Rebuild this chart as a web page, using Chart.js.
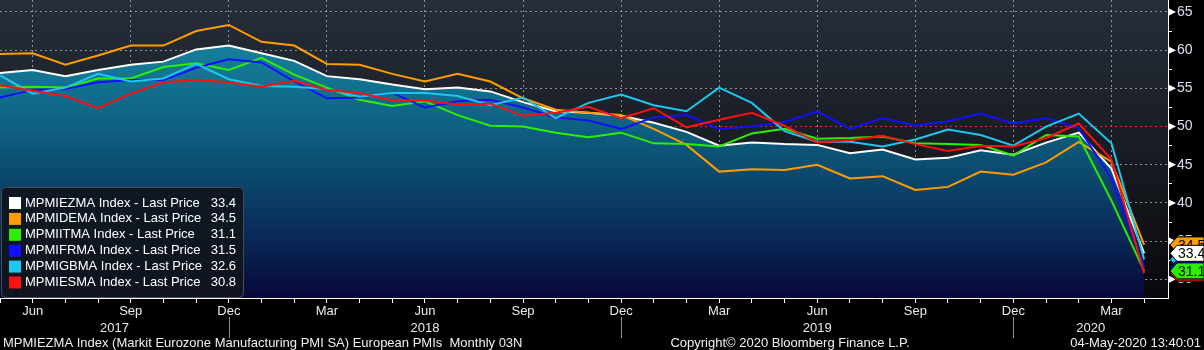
<!DOCTYPE html>
<html>
<head>
<meta charset="utf-8">
<script src="https://cdn.jsdelivr.net/npm/chart.js@4"></script>
<style>
  html, body { margin: 0; padding: 0; background: #000; }
  #wrap { width: 1204px; height: 350px; }
</style>
</head>
<body>
<div id="wrap"><canvas id="pmiChart" width="1204" height="350"></canvas></div>
<script>
// monthly PMI readings, May 2017 .. Apr 2020
var months = [
  '2017-05', '2017-06', '2017-07', '2017-08', '2017-09', '2017-10', '2017-11', '2017-12',
  '2018-01', '2018-02', '2018-03', '2018-04', '2018-05', '2018-06', '2018-07', '2018-08', '2018-09', '2018-10', '2018-11', '2018-12',
  '2019-01', '2019-02', '2019-03', '2019-04', '2019-05', '2019-06', '2019-07', '2019-08', '2019-09', '2019-10', '2019-11', '2019-12',
  '2020-01', '2020-02', '2020-03', '2020-04'
];
var monthNames = ['Jan', 'Feb', 'Mar', 'Apr', 'May', 'Jun', 'Jul', 'Aug', 'Sep', 'Oct', 'Nov', 'Dec'];
var labelledMonths = ['Mar', 'Jun', 'Sep', 'Dec'];
var yTickValues = [30, 32.5, 35, 37.5, 40, 42.5, 45, 47.5, 50, 52.5, 55, 57.5, 60, 62.5, 65];

var ezValues = [57.0, 57.4, 56.6, 57.4, 58.1, 58.5, 60.1, 60.6,
  59.6, 58.6, 56.6, 56.2, 55.5, 54.9, 55.1, 54.6, 53.2, 52.0, 51.8, 51.4,
  50.5, 49.3, 47.5, 47.9, 47.7, 47.6, 46.5, 47.0, 45.7, 45.9, 46.9, 46.3,
  47.9, 49.2, 44.5, 33.4];
var deValues = [59.5, 59.6, 58.1, 59.3, 60.6, 60.6, 62.5, 63.3,
  61.1, 60.6, 58.2, 58.1, 56.9, 55.9, 56.9, 55.9, 53.7, 52.2, 51.8, 51.5,
  49.7, 47.6, 44.1, 44.4, 44.3, 45.0, 43.2, 43.5, 41.7, 42.1, 44.1, 43.7,
  45.3, 48.0, 45.4, 34.5];
var itValues = [55.1, 55.2, 55.1, 56.3, 56.3, 57.8, 58.3, 57.4,
  59.0, 56.8, 55.1, 53.5, 52.7, 53.3, 51.5, 50.1, 50.0, 49.2, 48.6, 49.2,
  47.8, 47.7, 47.4, 49.1, 49.7, 48.4, 48.5, 48.7, 47.8, 47.7, 47.6, 46.2,
  48.9, 48.7, 40.3, 31.1];
var frValues = [53.8, 54.8, 54.9, 55.8, 56.1, 56.1, 57.7, 58.8,
  58.4, 55.9, 53.7, 53.8, 54.4, 52.5, 53.3, 53.5, 52.5, 51.2, 50.8, 49.7,
  51.2, 51.5, 49.7, 50.0, 50.6, 52.0, 49.7, 51.1, 50.1, 50.7, 51.7, 50.4,
  51.1, 49.8, 43.2, 31.5];
var gbValues = [56.7, 54.3, 55.1, 56.9, 55.9, 56.3, 58.2, 56.2,
  55.3, 55.2, 54.9, 53.9, 54.4, 54.4, 54.0, 52.8, 53.8, 51.1, 53.1, 54.2,
  52.8, 52.0, 55.1, 53.1, 49.4, 48.0, 48.0, 47.4, 48.3, 49.6, 48.9, 47.5,
  50.0, 51.7, 47.8, 32.6];
var esValues = [55.4, 54.7, 54.0, 52.4, 54.3, 55.8, 56.1, 55.8,
  55.2, 56.0, 54.8, 54.4, 53.4, 53.4, 52.9, 53.0, 51.4, 51.8, 52.6, 51.1,
  52.4, 49.9, 50.9, 51.8, 50.1, 47.9, 48.2, 48.8, 47.7, 46.8, 47.5, 47.4,
  48.5, 50.4, 45.7, 30.8];

var seriesNames = ['MPMIEZMA Index', 'MPMIDEMA Index', 'MPMIITMA Index', 'MPMIFRMA Index', 'MPMIGBMA Index', 'MPMIESMA Index'];
var seriesColors = ['#ffffff', '#ff9c00', '#2af000', '#1010ff', '#1cc8f0', '#ff1010'];
var seriesValues = [ezValues, deValues, itValues, frValues, gbValues, esValues];

var FONT = '"Liberation Sans", Arial, sans-serif';

function monthLabel(i) {
  var m = months[i];
  if (!m) return '';
  return monthNames[parseInt(m.slice(5), 10) - 1];
}

function areaGradient(chart) {
  var ca = chart.chartArea;
  if (!ca) return 'rgba(0,0,0,0)';
  var g = chart.ctx.createLinearGradient(0, ca.top, 0, ca.bottom);
  g.addColorStop(0, '#1b8ba8');
  g.addColorStop(0.2, '#157b97');
  g.addColorStop(0.42, '#0e6183');
  g.addColorStop(0.52, '#0c5275');
  g.addColorStop(0.76, '#0a2f5c');
  g.addColorStop(1, '#07073a');
  return g;
}

var datasets = seriesValues.map(function (vals, s) {
  return {
    label: seriesNames[s],
    data: vals.map(function (v, i) { return { x: i, y: v }; }),
    borderColor: seriesColors[s],
    borderWidth: 2,
    pointRadius: 0,
    tension: 0,
    order: 6 - s,
    fill: s === 0 ? 'start' : false,
    backgroundColor: s === 0 ? function (ctx) { return areaGradient(ctx.chart); } : seriesColors[s]
  };
});

var bloombergFrame = {
  id: 'bloombergFrame',
  beforeDraw: function (chart) {
    var ctx = chart.ctx, ca = chart.chartArea;
    ctx.save();
    ctx.fillStyle = '#000';
    ctx.fillRect(0, 0, chart.width, chart.height);
    var g = ctx.createLinearGradient(0, ca.top, 0, ca.bottom);
    g.addColorStop(0, '#272e39');
    g.addColorStop(0.5, '#181c23');
    g.addColorStop(1, '#09090c');
    ctx.fillStyle = g;
    ctx.fillRect(ca.left, ca.top, ca.right - ca.left, ca.bottom - ca.top);
    ctx.restore();
  },
  afterDraw: function (chart) {
    var ctx = chart.ctx, ca = chart.chartArea;
    var xs = chart.scales.x, ys = chart.scales.y;
    ctx.save();

    // triangles on major y ticks
    ctx.fillStyle = '#ffffff';
    yTickValues.forEach(function (v) {
      if (v % 5 !== 0) return;
      var y = ys.getPixelForValue(v);
      ctx.beginPath();
      ctx.moveTo(ca.right, y - 4);
      ctx.lineTo(ca.right + 8, y);
      ctx.lineTo(ca.right, y + 4);
      ctx.closePath();
      ctx.fill();
    });

    // year separators and year labels
    var yearStarts = [];
    months.forEach(function (m, i) {
      if (m.slice(5) === '12') yearStarts.push(i);
    });
    ctx.strokeStyle = '#8a8f98';
    ctx.lineWidth = 1;
    yearStarts.forEach(function (i) {
      var x = Math.round(xs.getPixelForValue(i)) + 0.5;
      ctx.beginPath();
      ctx.moveTo(x, 317);
      ctx.lineTo(x, 338);
      ctx.stroke();
    });
    var bounds = [ca.left].concat(yearStarts.map(function (i) { return xs.getPixelForValue(i); })).concat([ca.right]);
    ctx.fillStyle = '#e6ebf2';
    ctx.font = '13px ' + FONT;
    ctx.textAlign = 'center';
    ctx.textBaseline = 'middle';
    for (var b = 0; b < bounds.length - 1; b++) {
      var yearIdx = b === 0 ? 0 : yearStarts[b - 1] + 1;
      ctx.fillText(months[yearIdx].slice(0, 4), (bounds[b] + bounds[b + 1]) / 2, 328);
    }

    // footer
    ctx.fillStyle = '#f0f0f0';
    ctx.textAlign = 'left';
    ctx.fillText('MPMIEZMA Index (Markit Eurozone Manufacturing PMI SA) European PMIs  Monthly 03N', 3, 343);
    ctx.textAlign = 'center';
    ctx.fillText('Copyright\u00a9 2020 Bloomberg Finance L.P.', 790, 343);
    ctx.textAlign = 'right';
    ctx.fillText('04-May-2020 13:40:01', 1201, 343);

    // legend box
    var lx = 1, ly = 187, lw = 242, lh = 110;
    ctx.fillStyle = 'rgba(16,21,29,0.93)';
    ctx.strokeStyle = '#454c59';
    ctx.beginPath();
    ctx.roundRect(lx + 0.5, ly + 0.5, lw, lh, 4);
    ctx.fill();
    ctx.stroke();
    ctx.textBaseline = 'middle';
    seriesNames.forEach(function (name, s) {
      var vals = seriesValues[s];
      var cy = 203 + s * 15.9;
      ctx.fillStyle = seriesColors[s];
      ctx.fillRect(9, cy - 6, 12, 12);
      ctx.fillStyle = '#ffffff';
      ctx.textAlign = 'left';
      ctx.fillText(name + ' - Last Price', 25, cy);
      ctx.textAlign = 'right';
      ctx.fillText(vals[vals.length - 1].toFixed(1), 236, cy);
    });

    // last value tags on the right axis
    var tagOrder = [4, 3, 5, 1, 2, 0];
    tagOrder.forEach(function (s) {
      var vals = seriesValues[s];
      var last = vals[vals.length - 1];
      var y = ys.getPixelForValue(last);
      ctx.fillStyle = seriesColors[s];
      ctx.strokeStyle = '#000';
      ctx.beginPath();
      ctx.moveTo(ca.right + 2, y);
      ctx.lineTo(ca.right + 9, y - 8);
      ctx.lineTo(chart.width, y - 8);
      ctx.lineTo(chart.width, y + 8);
      ctx.lineTo(ca.right + 9, y + 8);
      ctx.closePath();
      ctx.fill();
      ctx.stroke();
      ctx.fillStyle = (s === 3 || s === 5) ? '#ffffff' : '#000000';
      ctx.textAlign = 'left';
      ctx.font = '14px ' + FONT;
      ctx.fillText(last.toFixed(1), ca.right + 10, y + 1);
    });
    ctx.restore();
  }
};

var pmiChart = new Chart(document.getElementById('pmiChart'), {
  type: 'line',
  data: { datasets: datasets },
  options: {
    responsive: false,
    animation: false,
    devicePixelRatio: 1,
    layout: { padding: 0 },
    plugins: {
      legend: { display: false },
      tooltip: { enabled: false },
      title: { display: false }
    },
    scales: {
      x: {
        type: 'linear',
        min: 0,
        max: 35.73,
        afterBuildTicks: function (scale) {
          scale.ticks = months.map(function (m, i) { return { value: i }; });
        },
        afterFit: function (scale) {
          scale.height = 52;
          scale.paddingLeft = 0;
          scale.paddingRight = 0;
        },
        ticks: {
          autoSkip: false,
          maxRotation: 0,
          padding: 1,
          color: '#e6ebf2',
          font: { family: FONT, size: 13 },
          callback: function (value) {
            var name = monthLabel(value);
            return labelledMonths.indexOf(name) >= 0 ? name : '';
          }
        },
        grid: {
          drawTicks: true,
          tickLength: 5,
          tickColor: '#ffffff',
          color: function (ctx) {
            if (!ctx.tick) return 'rgba(0,0,0,0)';
            return labelledMonths.indexOf(monthLabel(ctx.tick.value)) >= 0 ? 'rgba(160,166,176,0.85)' : 'rgba(0,0,0,0)';
          }
        },
        border: { display: true, color: '#ffffff', width: 1, dash: [2, 3] }
      },
      y: {
        type: 'linear',
        position: 'right',
        min: 27.55,
        max: 66.57,
        afterBuildTicks: function (scale) {
          scale.ticks = yTickValues.map(function (v) { return { value: v }; });
        },
        afterFit: function (scale) {
          scale.width = 36;
          scale.paddingTop = 0;
          scale.paddingBottom = 0;
        },
        ticks: {
          padding: 5,
          color: '#d6e0f0',
          font: { family: FONT, size: 14 },
          callback: function (value) { return value % 5 === 0 ? String(value) : ''; }
        },
        grid: {
          drawTicks: true,
          tickLength: 4,
          tickColor: '#ffffff',
          color: function (ctx) {
            if (!ctx.tick) return 'rgba(0,0,0,0)';
            var v = ctx.tick.value;
            if (v === 50) return '#ff2020';
            return v % 5 === 0 ? 'rgba(160,166,176,0.85)' : 'rgba(0,0,0,0)';
          }
        },
        border: { display: true, color: '#ffffff', width: 1, dash: [2, 3] }
      }
    }
  },
  plugins: [bloombergFrame]
});
</script>
</body>
</html>
